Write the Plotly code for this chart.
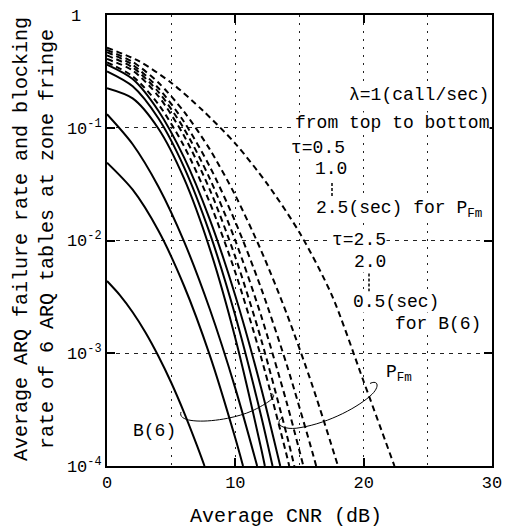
import plotly.graph_objects as go

# ---------------- data ----------------
# P_Fm curves (dashed), tau = 0.5 ... 2.5 s from top to bottom
cnr_pfm_1 = [0, 2.5, 5, 7.5, 10, 12.5, 15, 17.5, 20, 22.4]
pfm_1 = [0.513, 0.389, 0.251, 0.141, 0.0724, 0.0316, 0.01175, 3.31e-3, 5.62e-4, 1e-4]

cnr_pfm_2 = [0, 2, 4, 6, 8, 10, 12, 14, 16, 18]
pfm_2 = [0.490, 0.384, 0.252, 0.139, 0.0646, 0.0251, 8.20e-3, 2.25e-3, 5.18e-4, 1e-4]

cnr_pfm_3 = [0, 2, 4, 6, 8, 10, 12, 14, 16, 16.3]
pfm_3 = [0.468, 0.362, 0.225, 0.113, 0.0454, 0.01466, 3.80e-3, 7.94e-4, 1.33e-4, 1e-4]

cnr_pfm_4 = [0, 2, 4, 6, 8, 10, 12, 14, 15.3]
pfm_4 = [0.437, 0.343, 0.2084, 0.0981, 0.03556, 0.01, 2.17e-3, 3.66e-4, 1e-4]

cnr_pfm_5 = [0, 2, 4, 6, 8, 10, 12, 14, 14.6]
pfm_5 = [0.407, 0.322, 0.191, 0.0849, 0.02844, 7.13e-3, 1.34e-3, 1.90e-4, 1e-4]

cnr_pfm_6 = [0, 2, 4, 6, 8, 10, 12, 14, 14.2]
pfm_6 = [0.380, 0.286, 0.162, 0.0687, 0.02183, 5.20e-3, 9.29e-4, 1.245e-4, 1e-4]

# B(6) curves (solid)
cnr_b6_1 = [0, 1, 2, 3, 4, 5, 6, 7, 7.6]
b6_1 = [4.37e-3, 3.28e-3, 2.31e-3, 1.53e-3, 9.46e-4, 5.50e-4, 2.99e-4, 1.53e-4, 1e-4]

cnr_b6_2 = [0, 2, 4, 6, 8, 10, 10.6]
b6_2 = [0.0490, 0.0282, 0.01225, 3.97e-3, 9.66e-4, 1.76e-4, 1e-4]

cnr_b6_3 = [0, 2, 4, 6, 8, 10, 11.7]
b6_3 = [0.1318, 0.0714, 0.0301, 9.82e-3, 2.48e-3, 4.88e-4, 1e-4]

cnr_b6_4 = [0, 2, 4, 6, 8, 10, 12, 12.3]
b6_4 = [0.224, 0.182, 0.0984, 0.0355, 8.51e-3, 1.36e-3, 1.45e-4, 1e-4]

cnr_b6_5 = [0, 2, 4, 6, 8, 10, 12, 12.9]
b6_5 = [0.316, 0.233, 0.1213, 0.0448, 0.01167, 2.15e-3, 2.81e-4, 1e-4]

cnr_b6_6 = [0, 2, 4, 6, 8, 10, 12, 13.5]
b6_6 = [0.363, 0.2704, 0.1416, 0.0546, 0.01549, 3.24e-3, 4.98e-4, 1e-4]

x_ticks = [0, 10, 20, 30]
x_minor = [5, 15, 25]
y_ticks = [1e-4, 1e-3, 1e-2, 1e-1, 1]
y_ticktext = ["10<sup>-4</sup>", "10<sup>-3</sup>", "10<sup>-2</sup>", "10<sup>-1</sup>",
              "1\u00a0\u00a0"]

MONO = "Liberation Mono, Courier New, monospace"

fig = go.Figure()

dashed = [(cnr_pfm_1, pfm_1), (cnr_pfm_2, pfm_2), (cnr_pfm_3, pfm_3),
          (cnr_pfm_4, pfm_4), (cnr_pfm_5, pfm_5), (cnr_pfm_6, pfm_6)]
solid = [(cnr_b6_1, b6_1), (cnr_b6_2, b6_2), (cnr_b6_3, b6_3),
         (cnr_b6_4, b6_4), (cnr_b6_5, b6_5), (cnr_b6_6, b6_6)]

for xs, ys in dashed:
    fig.add_trace(go.Scatter(x=xs, y=ys, mode="lines", showlegend=False, hoverinfo="skip",
                             line=dict(color="black", width=2, dash="6px,4px",
                                       shape="spline", smoothing=0.8)))
for xs, ys in solid:
    fig.add_trace(go.Scatter(x=xs, y=ys, mode="lines", showlegend=False, hoverinfo="skip",
                             line=dict(color="black", width=2, shape="spline", smoothing=0.8)))

W, H = 509, 532
L, R, T, B = 107, 17, 7, 66
PW, PH = W - L - R, H - T - B


def px(xp):
    return (xp - L) / PW


def py(yp):
    return (H - B - yp) / PH


grid_col = "#222"
fig.update_layout(
    width=W, height=H,
    margin=dict(l=L, r=R, t=T, b=B),
    paper_bgcolor="white", plot_bgcolor="white",
    font=dict(family=MONO, color="black"),
    xaxis=dict(range=[0, 30], tickvals=x_ticks, ticks="inside", ticklen=8, tickwidth=1.5,
               tickcolor="black", showline=True, linewidth=2, linecolor="black",
               mirror="allticks", showgrid=True, gridcolor=grid_col, gridwidth=1,
               griddash="2px,6px", zeroline=False, tickfont=dict(size=17, family=MONO),
               minor=dict(tickvals=x_minor, showgrid=True, gridcolor=grid_col, gridwidth=1,
                          griddash="2px,6px", ticks="")),
    yaxis=dict(type="log", range=[-4, 0], tickvals=y_ticks, ticktext=y_ticktext,
               ticks="inside", ticklen=8, tickwidth=1.5, tickcolor="black",
               showline=True, linewidth=2, linecolor="black", mirror="allticks",
               showgrid=True, gridcolor=grid_col, gridwidth=1, griddash="4px,5px",
               zeroline=False, tickfont=dict(size=17, family=MONO)),
)

ann_font = dict(family=MONO, size=18, color="black")
anns = [
    ("\u03bb=1(call/sec)", 490, 88, "right"),
    ("from top to bottom", 490, 117, "right"),
    ("\u03c4=0.5", 290, 142, "left"),
    ("1.0", 348, 164, "right"),
    ("2.5(sec) for P<sub>Fm</sub>", 315, 205, "left"),
    ("\u03c4=2.5", 387, 236, "right"),
    ("2.0", 387, 258, "right"),
    ("0.5(sec)", 352, 299, "left"),
    ("for B(6)", 482, 321, "right"),
    ("P<sub>Fm</sub>", 385, 372, "left"),
    ("B(6)", 132, 430, "left"),
]
for text, xx, yy, anc in anns:
    fig.add_annotation(text=text, x=px(xx), y=py(yy), xref="paper", yref="paper",
                       xanchor=anc, yanchor="middle", showarrow=False, font=ann_font,
                       bgcolor="white", borderpad=0)

# axis titles
fig.add_annotation(text="Average CNR (dB)", x=px(285.5), y=py(517), xref="paper", yref="paper",
                   xanchor="center", yanchor="middle", showarrow=False,
                   font=dict(family=MONO, size=20, color="black"))
fig.add_annotation(text="Average ARQ failure rate and blocking<br>rate of 6 ARQ tables at zone fringe",
                   x=px(34), y=py(235), xref="paper", yref="paper", textangle=-90,
                   xanchor="center", yanchor="middle", showarrow=False,
                   font=dict(family=MONO, size=20, color="black"))


def path(points):
    s = "M {:.4f},{:.4f}".format(px(points[0][0]), py(points[0][1]))
    rest = points[1:]
    for i in range(0, len(rest), 3):
        c1, c2, p = rest[i], rest[i + 1], rest[i + 2]
        s += " C {:.4f},{:.4f} {:.4f},{:.4f} {:.4f},{:.4f}".format(
            px(c1[0]), py(c1[1]), px(c2[0]), py(c2[1]), px(p[0]), py(p[1]))
    return s


b6_loop = [(181, 411), (176, 425), (225, 422), (252, 410), (268, 402), (280, 394), (270, 392)]
pfm_loop = [(283, 416), (272, 424), (285, 430), (300, 427), (330, 422), (360, 405), (372, 393),
            (380, 385), (378, 378), (370, 382)]
for pts in (b6_loop, pfm_loop):
    fig.add_shape(type="path", path=path(pts), xref="paper", yref="paper",
                  line=dict(color="black", width=1))

for xx, y0, y1 in ((332, 178, 198), (369, 270, 290)):
    fig.add_shape(type="line", x0=px(xx), x1=px(xx), y0=py(y0), y1=py(y1),
                  xref="paper", yref="paper", line=dict(color="black", width=1.5, dash="3px,2px"))

fig.write_html("out.html")
